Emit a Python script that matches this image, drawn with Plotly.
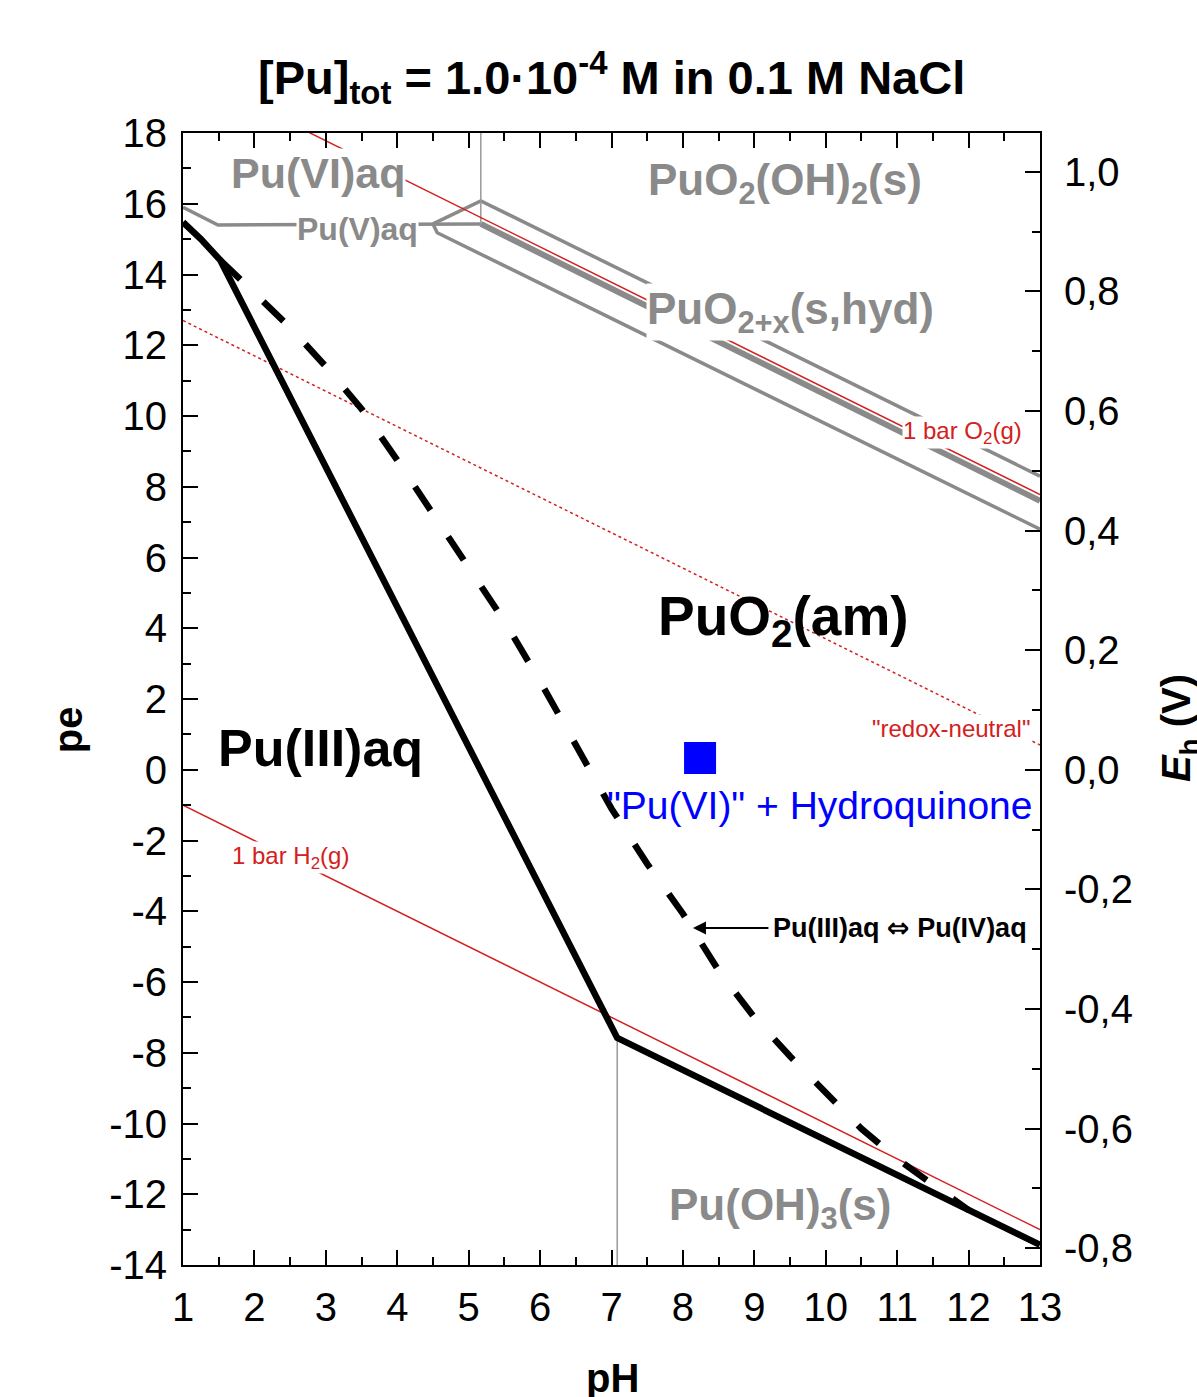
import plotly.graph_objects as go

# ---------------- data (pH, pe) ----------------
# Pu(III)aq / PuO2(am) / Pu(OH)3(s) boundary (solid black)
solid_ph = [1.0, 1.25, 1.52, 7.08, 13.0]
solid_pe = [15.48, 15.0, 14.41, -7.58, -13.43]

# Pu(III)aq <-> Pu(IV)aq (dashed black)
dash_ph = [1.52, 2.0, 2.5, 3.0, 3.5, 4.0, 4.5, 5.0, 5.5, 6.0, 6.5, 7.0, 7.5, 8.0,
           8.5, 9.0, 9.5, 10.0, 10.5, 11.0, 11.5, 12.0]
dash_pe = [14.41, 13.5, 12.5, 11.4, 10.2, 8.75, 7.26, 5.72, 4.2, 2.5, 0.7, -1.1,
           -2.66, -4.07, -5.68, -7.0, -8.1, -9.15, -10.15, -11.0, -11.75, -12.45]

# grey boundaries (Pu(VI)/Pu(V)/PuO2(OH)2/PuO2+x)
grayA_ph = [1.0, 1.49, 5.17]
grayA_pe = [15.9, 15.4, 15.43]
grayB_ph = [4.5, 5.17, 13.0]
grayB_pe = [15.43, 16.08, 8.3]
grayC_ph = [5.17, 13.0]
grayC_pe = [15.43, 7.6]
grayD_ph = [4.5, 4.56, 13.0]
grayD_pe = [15.43, 15.18, 6.8]
vert1_ph = [5.17, 5.17]
vert1_pe = [18.0, 15.43]
vert2_ph = [7.08, 7.08]
vert2_pe = [-14.0, -7.58]

# water stability / redox-neutral lines
o2_ph = [1.0, 13.0]
o2_pe = [19.78, 7.78]
h2_ph = [1.0, 13.0]
h2_pe = [-1.0, -13.0]
neutral_ph = [1.0, 13.0]
neutral_pe = [12.7, 0.7]

# experimental point
exp_ph = [8.24]
exp_pe = [0.33]

# axes
x_ticks = list(range(1, 14))
pe_ticks = list(range(-14, 19, 2))
pe_ticktext = [str(v) for v in pe_ticks]
pe_minor = list(range(-13, 18, 2))
eh_ticks = [-0.8, -0.6, -0.4, -0.2, 0.0, 0.2, 0.4, 0.6, 0.8, 1.0]
eh_ticktext = ["-0,8", "-0,6", "-0,4", "-0,2", "0,0", "0,2", "0,4", "0,6", "0,8", "1,0"]
eh_minor = [-0.7, -0.5, -0.3, -0.1, 0.1, 0.3, 0.5, 0.7, 0.9]
PE_TO_EH = 0.05916
pe_range = [-14, 18]

GRAY = "#8a8a8a"
RED = "#d42020"
FONT = "Liberation Sans, Arial, sans-serif"

fig = go.Figure()

def line(x, y, color, width, dash="solid"):
    fig.add_trace(go.Scatter(x=x, y=y, mode="lines", showlegend=False, hoverinfo="skip",
                             line=dict(color=color, width=width, dash=dash)))

line(grayA_ph, grayA_pe, GRAY, 3.5)
line(grayB_ph, grayB_pe, GRAY, 3.5)
line(grayC_ph, grayC_pe, GRAY, 6)
line(grayD_ph, grayD_pe, GRAY, 3.5)
line(vert1_ph, vert1_pe, "#999999", 1.5)
line(vert2_ph, vert2_pe, "#999999", 1.5)
line(o2_ph, o2_pe, RED, 1.5)
line(h2_ph, h2_pe, RED, 1.5)
line(neutral_ph, neutral_pe, RED, 1.5, "dot")
line(dash_ph, dash_pe, "black", 6.5, "28px,32px")
line(solid_ph, solid_pe, "black", 6.5)

fig.add_trace(go.Scatter(x=exp_ph, y=exp_pe, mode="markers", showlegend=False,
                         marker=dict(symbol="square", size=32, color="#0000ff",
                                     line=dict(width=0))))
# dummy trace for right axis
fig.add_trace(go.Scatter(x=[1], y=[0], yaxis="y2", mode="markers", showlegend=False,
                         marker=dict(opacity=0), hoverinfo="skip"))

def label(x, y, text, size, color, bg=None, **kw):
    d = dict(x=x, y=y, xref="x", yref="y", text=text, showarrow=False,
             font=dict(family=FONT, size=size, color=color),
             xanchor="center", yanchor="middle", borderpad=0)
    if bg:
        d["bgcolor"] = bg
    d.update(kw)
    fig.add_annotation(**d)

label(2.89, 16.87, "<b>Pu(VI)aq</b>", 43, GRAY, "white")
label(3.44, 15.29, "<b>Pu(V)aq</b>", 32, GRAY, "white")
label(9.43, 16.59, "<b>PuO<sub>2</sub>(OH)<sub>2</sub>(s)</b>", 44, GRAY)
label(9.50, 12.94, "<b>PuO<sub>2+x</sub>(s,hyd)</b>", 44, GRAY, "white")
label(11.91, 9.52, "1 bar O<sub>2</sub>(g)", 24, RED, "white")
label(9.41, 4.23, "<b>PuO<sub>2</sub>(am)</b>", 55, "black")
label(11.75, 1.18, "\"redox-neutral\"", 24, RED, "white")
label(9.92, -1.02, "\"Pu(VI)\" + Hydroquinone", 39, "#0000ff")
label(11.04, -4.47,
      "<b>Pu(III)aq <span style=\"font-family:DejaVu Sans\">⇔</span> Pu(IV)aq</b>",
      27, "black")
label(2.92, 0.61, "<b>Pu(III)aq</b>", 52, "black")
label(2.51, -2.47, "1 bar H<sub>2</sub>(g)", 24, RED, "white")
label(9.36, -12.39, "<b>Pu(OH)<sub>3</sub>(s)</b>", 44, GRAY)

# arrow
fig.add_annotation(x=8.14, y=-4.47, xref="x", yref="y", text="", showarrow=True,
                   ax=77, ay=0, arrowhead=2, arrowsize=1.3, arrowwidth=2,
                   arrowcolor="black")

# titles
fig.add_annotation(x=0.5, y=1.049, xref="paper", yref="paper",
                   text="<b>[Pu]<sub>tot</sub> = 1.0·10<sup>-4</sup> M in 0.1 M NaCl</b>",
                   showarrow=False, font=dict(family=FONT, size=47, color="black"),
                   xanchor="center", yanchor="middle")
fig.add_annotation(x=0.5006, y=-0.1, xref="paper", yref="paper", text="<b>pH</b>",
                   showarrow=False, font=dict(family=FONT, size=40, color="black"),
                   xanchor="center", yanchor="middle")
fig.add_annotation(x=-0.134, y=0.4726, xref="paper", yref="paper", text="<b>pe</b>",
                   showarrow=False, font=dict(family=FONT, size=40, color="black"),
                   textangle=-90, xanchor="center", yanchor="middle")
fig.add_annotation(x=1.163, y=0.474, xref="paper", yref="paper",
                   text="<b><i>E</i><sub>h</sub> (V)</b>",
                   showarrow=False, font=dict(family=FONT, size=40, color="black"),
                   textangle=-90, xanchor="center", yanchor="middle")

axis_common = dict(showgrid=False, zeroline=False, showline=True, linecolor="black",
                   linewidth=2, ticks="inside", ticklen=15, tickwidth=2, tickcolor="black",
                   tickfont=dict(family=FONT, size=40, color="black"))

fig.update_layout(
    width=1197, height=1397,
    margin=dict(l=183, r=157, t=133, b=132),
    paper_bgcolor="white", plot_bgcolor="white",
    font=dict(family=FONT),
    showlegend=False,
    xaxis=dict(range=[1, 13], tickmode="array", tickvals=x_ticks, mirror="ticks",
               minor=dict(dtick=0.5, tick0=1, ticklen=8, tickwidth=2, ticks="inside",
                          tickcolor="black"),
               ticklabelstandoff=6, **axis_common),
    yaxis=dict(range=pe_range, tickmode="array", tickvals=pe_ticks, ticktext=pe_ticktext,
               minor=dict(tickmode="array", tickvals=pe_minor, ticklen=8, tickwidth=2,
                          ticks="inside", tickcolor="black"),
               ticklabelstandoff=6, **axis_common),
    yaxis2=dict(overlaying="y", side="right", anchor="x",
                range=[pe_range[0] * PE_TO_EH, pe_range[1] * PE_TO_EH],
                tickmode="array", tickvals=eh_ticks, ticktext=eh_ticktext,
                minor=dict(tickmode="array", tickvals=eh_minor, ticklen=8, tickwidth=2,
                           ticks="inside", tickcolor="black"),
                ticklabelstandoff=14, **axis_common),
)

fig.write_html("out.html")
